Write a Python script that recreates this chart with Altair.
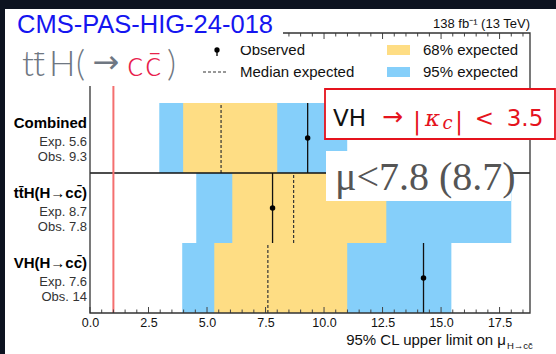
import altair as alt
import pandas as pd

# ---------------- data ----------------
categories = ["Combined", "tt\u0304H(H\u2192cc\u0304)", "VH(H\u2192cc\u0304)"]
row_lo = [2, 1, 0]
row_hi = [3, 2, 1]
lo95 = [2.96, 4.54, 3.94]
lo68 = [3.98, 6.08, 5.31]
hi68 = [8.00, 12.66, 10.99]
hi95 = [10.99, 18.00, 15.44]
expected = [5.6, 8.7, 7.6]
observed = [9.3, 7.8, 14.25]
exp_labels = ["Exp. 5.6", "Exp. 8.7", "Exp. 7.6"]
obs_labels = ["Obs. 9.3", "Obs. 7.8", "Obs. 14"]
separators = [2]
sm_value = [1.0]
major_ticks = [0, 2.5, 5, 7.5, 10, 12.5, 15, 17.5]
minor_ticks = [0.5, 1, 1.5, 2, 3, 3.5, 4, 4.5, 5.5, 6, 6.5, 7, 8, 8.5, 9, 9.5,
               10.5, 11, 11.5, 12, 13, 13.5, 14, 14.5, 15.5, 16, 16.5, 17, 18, 18.5]
legend_labels = ["Observed", "Median expected", "68% expected", "95% expected"]

X_MAX = 18.8
BLUE = "#85cffa"
YELLOW = "#fedd84"
FONT = "Liberation Sans"

df = pd.DataFrame({
    "cat": categories, "ylo": row_lo, "yhi": row_hi,
    "lo95": lo95, "lo68": lo68, "hi68": hi68, "hi95": hi95,
    "exp": expected, "obs": observed,
    "explab": exp_labels, "obslab": obs_labels,
})
df["ymid"] = (df["ylo"] + df["yhi"]) / 2

xs = alt.Scale(domain=[0, X_MAX], nice=False, zero=False)
ys = alt.Scale(domain=[0, 4], nice=False, zero=False)
one = pd.DataFrame({"a": [0]})

base = alt.Chart(df)


def box(x, x2, y, y2, **kw):
    return alt.Chart(one).mark_rect(**kw).encode(
        x=alt.value(x), x2=alt.value(x2), y=alt.value(y), y2=alt.value(y2))


def txt(text, x, y, **kw):
    return alt.Chart(one).mark_text(**kw).encode(
        x=alt.value(x), y=alt.value(y), text=alt.value(text))


white_bg = box(-85, 466, -24, 321, fill="white")

band95 = base.mark_rect(color=BLUE).encode(
    x=alt.X("lo95:Q", scale=xs, axis=alt.Axis(
        values=major_ticks, format=".1f", ticks=False, domain=False, grid=False,
        labelFontSize=12.5, labelColor="#111111", labelPadding=3, labelFont=FONT,
        labelFlush=False, title=None, zindex=1)),
    x2="hi95:Q",
    y=alt.Y("ylo:Q", scale=ys, axis=None), y2="yhi:Q")
band68 = base.mark_rect(color=YELLOW).encode(
    x=alt.X("lo68:Q", scale=xs), x2="hi68:Q",
    y=alt.Y("ylo:Q", scale=ys), y2="yhi:Q")
median = base.mark_rule(color="#333333", strokeDash=[3, 2], strokeWidth=1.2).encode(
    x=alt.X("exp:Q", scale=xs), y=alt.Y("ylo:Q", scale=ys), y2="yhi:Q")
obs_rule = base.mark_rule(color="#111111", strokeWidth=1.3).encode(
    x=alt.X("obs:Q", scale=xs), y=alt.Y("ylo:Q", scale=ys), y2="yhi:Q")
obs_dot = base.mark_circle(color="black", size=30, opacity=1).encode(
    x=alt.X("obs:Q", scale=xs), y=alt.Y("ymid:Q", scale=ys))

sep = alt.Chart(pd.DataFrame({"y": separators})).mark_rule(color="#111111", strokeWidth=1.3).encode(
    y=alt.Y("y:Q", scale=ys), x=alt.value(0), x2=alt.value(440))
sm = alt.Chart(pd.DataFrame({"v": sm_value})).mark_rule(color="#f46f6f", strokeWidth=2).encode(
    x=alt.X("v:Q", scale=xs), y=alt.value(0), y2=alt.value(280))

tick_col = "#444444"
maj = pd.DataFrame({"v": major_ticks})
mnr = pd.DataFrame({"v": minor_ticks})
ticks = [
    alt.Chart(maj).mark_rule(color=tick_col, strokeWidth=1).encode(
        x=alt.X("v:Q", scale=xs), y=alt.value(280), y2=alt.value(274)),
    alt.Chart(mnr).mark_rule(color=tick_col, strokeWidth=1).encode(
        x=alt.X("v:Q", scale=xs), y=alt.value(280), y2=alt.value(276.5)),
    alt.Chart(maj).mark_rule(color=tick_col, strokeWidth=1).encode(
        x=alt.X("v:Q", scale=xs), y=alt.value(0), y2=alt.value(6)),
    alt.Chart(mnr).mark_rule(color=tick_col, strokeWidth=1).encode(
        x=alt.X("v:Q", scale=xs), y=alt.value(0), y2=alt.value(3.5)),
]

frame = box(0, 440, 0, 280, fill="transparent", stroke="#333333", strokeWidth=1.3)

cat_text = base.mark_text(align="right", baseline="middle", font=FONT, fontSize=15,
                          fontWeight="bold", color="black", dy=-15).encode(
    x=alt.value(-3), y=alt.Y("ymid:Q", scale=ys), text="cat:N")
exp_text = base.mark_text(align="right", baseline="middle", font=FONT, fontSize=13,
                          color="#333333", dy=4).encode(
    x=alt.value(-3), y=alt.Y("ymid:Q", scale=ys), text="explab:N")
obs_text = base.mark_text(align="right", baseline="middle", font=FONT, fontSize=13,
                          color="#333333", dy=18.5).encode(
    x=alt.value(-3), y=alt.Y("ymid:Q", scale=ys), text="obslab:N")

# legend
leg = [
    alt.Chart(one).mark_rule(color="black", strokeWidth=1.3).encode(
        x=alt.value(127), y=alt.value(17), y2=alt.value(23)),
    alt.Chart(one).mark_circle(color="black", size=28, opacity=1).encode(
        x=alt.value(127), y=alt.value(17)),
    alt.Chart(one).mark_rule(color="#333333", strokeDash=[3, 2], strokeWidth=1.2).encode(
        x=alt.value(113), x2=alt.value(137), y=alt.value(39)),
    box(297, 320, 12, 22, fill=YELLOW),
    box(297, 320, 34, 44, fill=BLUE),
    txt(legend_labels[0], 150, 17, align="left", baseline="middle", font=FONT, fontSize=15, color="#111111"),
    txt(legend_labels[1], 150, 39, align="left", baseline="middle", font=FONT, fontSize=15, color="#111111"),
    txt(legend_labels[2], 333, 17, align="left", baseline="middle", font=FONT, fontSize=15, color="#111111"),
    txt(legend_labels[3], 333, 39, align="left", baseline="middle", font=FONT, fontSize=15, color="#111111"),
]

# overlay boxes
overlays = [
    box(-85, 193, -24, 13, fill="white"),
    box(-85, 100, -24, 53, fill="white"),
    box(235, 465, 56, 106, fill="white", stroke="#e5131d", strokeWidth=1.8),
    box(236, 421, 118, 168, fill="white"),
]

GRAY = "#6f7782"
RED = "#e8224c"
BRED = "#e5131d"
ann = [
    txt("138 fb\u207b\u00b9 (13 TeV)", 440, -5, align="right", baseline="alphabetic", font=FONT, fontSize=13, color="#111111"),
    txt("CMS-PAS-HIG-24-018", -73, 0, align="left", baseline="alphabetic", font=FONT, fontSize=25.5, color="#1515f0"),
    txt("t", -68, 43, align="left", baseline="alphabetic", font="Lato", fontWeight=300, fontSize=35, color=GRAY),
    txt("t\u0304", -57, 43, align="left", baseline="alphabetic", font="Lato", fontWeight=300, fontSize=35, color=GRAY),
    txt("H", -41, 43, align="left", baseline="alphabetic", font="Lato", fontWeight=300, fontSize=35, color=GRAY),
    txt("(", -14, 43, align="left", baseline="alphabetic", font="Lato", fontWeight=300, fontSize=35, color=GRAY),
    txt("\u2192", 16, 40, align="center", baseline="alphabetic", font="DejaVu Sans", fontSize=32, color=GRAY),
    txt("c", 37, 43, align="left", baseline="alphabetic", font="Lato", fontWeight=300, fontSize=35, color=RED),
    txt("c\u0304", 55, 43, align="left", baseline="alphabetic", font="Lato", fontWeight=300, fontSize=35, color=RED),
    txt(")", 77, 43, align="left", baseline="alphabetic", font="Lato", fontWeight=300, fontSize=35, color=GRAY),
    # red box content
    txt("VH", 259.5, 93, align="center", baseline="alphabetic", font="DejaVu Sans", fontSize=23, color="#111111"),
    txt("\u2192", 302.5, 92, align="center", baseline="alphabetic", font="DejaVu Sans", fontSize=25, color=BRED),
    txt("|", 327, 96, align="center", baseline="alphabetic", font="DejaVu Serif", fontSize=24, color=BRED),
    txt("\u03ba", 342.5, 93, align="center", baseline="alphabetic", font="DejaVu Serif", fontStyle="italic", fontSize=23, color=BRED),
    txt("c", 357.5, 96, align="center", baseline="alphabetic", font="DejaVu Serif", fontStyle="italic", fontSize=18, color=BRED),
    txt("|", 369, 96, align="center", baseline="alphabetic", font="DejaVu Serif", fontSize=24, color=BRED),
    txt("<", 394.5, 93, align="center", baseline="alphabetic", font="DejaVu Sans", fontSize=23, color=BRED),
    txt("3.5", 435, 93, align="center", baseline="alphabetic", font="DejaVu Sans", fontSize=23, color=BRED),
    # mu box
    txt("\u03bc<7.8 (8.7)", 245, 157, align="left", baseline="alphabetic", font="Liberation Serif", fontSize=40, color="#555555"),
    # axis title
    txt("95% CL upper limit on \u03bc", 416, 312, align="right", baseline="alphabetic", font=FONT, fontSize=15, color="#111111"),
    txt("H\u2192cc\u0304", 417, 316, align="left", baseline="alphabetic", font=FONT, fontSize=9.5, color="#111111"),
]

chart = alt.layer(
    white_bg, band95, band68, median, obs_rule, obs_dot, sep, sm, *ticks, frame,
    cat_text, exp_text, obs_text, *leg, *overlays, *ann
).properties(
    width=440, height=280,
    padding={"left": 90, "top": 33, "right": 26, "bottom": 41},
    autosize="none",
    background="#0d1320",
).configure_view(stroke="transparent").configure(font=FONT)

chart.save("out.html", embed_options={"renderer": "svg", "actions": False})
